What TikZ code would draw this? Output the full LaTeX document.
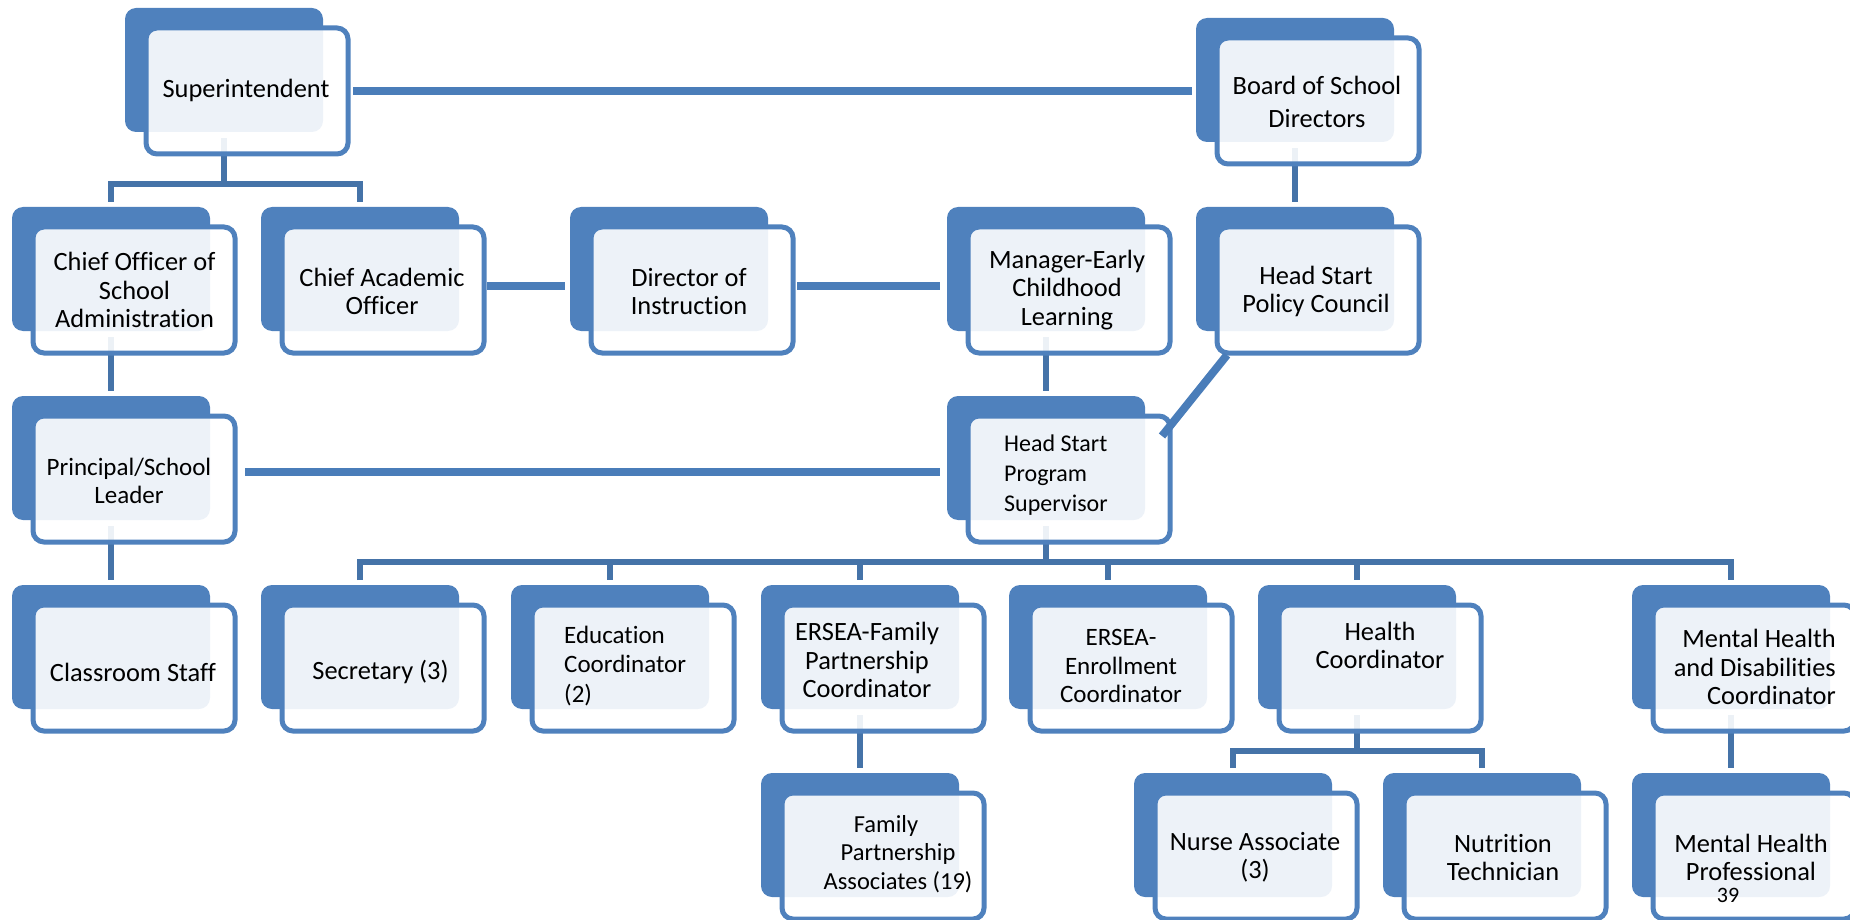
\documentclass[tikz,border=0pt]{standalone}
\usepackage{fontspec}
\setmainfont{Carlito}[Ligatures=NoCommon]
\definecolor{boxblue}{HTML}{4F81BD}
\definecolor{treeblue}{HTML}{4573A8}
\definecolor{connblue}{HTML}{4A7DB9}
\begin{document}
\begin{tikzpicture}[x=1pt,y=-1pt,
  backbox/.style={rectangle, rounded corners=11pt, fill=boxblue, draw=none, inner sep=0pt, outer sep=0pt,
    minimum width=198pt, minimum height=124pt, anchor=north west},
  frontbox/.style={rectangle, rounded corners=11pt, draw=boxblue, line width=5pt, fill=white, fill opacity=0.9,
    inner sep=0pt, outer sep=0pt, minimum width=202pt, minimum height=126pt, anchor=north west},
  tree/.style={draw=treeblue, line width=5.5pt, line join=miter},
  conn/.style={draw=connblue, line width=7.5pt},
  lbl/.style={inner sep=0pt, align=center, text=black, font=\fontsize{26.4}{28.3}\selectfont},
  small/.style={font=\fontsize{25}{28.3}\selectfont}]
\useasboundingbox (0,0) rectangle (1850,920);
\clip (0,0) rectangle (1850,920);
% back boxes
\foreach \n/\x/\y in {sup/125/8, brd/1196/18,
  co/12/207, ca/261/207, dir/570/207, mgr/947/207, pc/1196/207,
  pr/12/396, hsps/947/396,
  cs/12/585, sec/261/585, ed/511/585, ef/761/585, ee/1009/585, hl/1258/585, mhd/1632/585,
  fpa/761/773, nu/1134/773, nt/1383/773, mhp/1632/773}
  \node[backbox] (\n-b) at (\x,\y) {};
% bus coordinates
\coordinate (bus1) at (0,184);
\coordinate (bus2) at (0,562);
\coordinate (bus3) at (0,751);
% tree lines
\draw[tree, shorten <=6pt] (sup-b.south) -- (sup-b.south |- bus1);
\draw[tree, shorten <=5pt, shorten >=5pt] (co-b.north) |- (bus1 -| ca-b.north) -- (ca-b.north);
\draw[tree, shorten <=6pt, shorten >=5pt] (brd-b.south) -- (pc-b.north);
\draw[tree, shorten <=6pt, shorten >=5pt] (co-b.south) -- (pr-b.north);
\draw[tree, shorten <=6pt, shorten >=5pt] (mgr-b.south) -- (hsps-b.north);
\draw[tree, shorten <=6pt, shorten >=5pt] (pr-b.south) -- (cs-b.north);
\draw[tree, shorten <=6pt] (hsps-b.south) -- (hsps-b.south |- bus2);
\draw[tree, shorten <=5pt, shorten >=5pt] (sec-b.north) |- (bus2 -| mhd-b.north) -- (mhd-b.north);
\foreach \n in {ed, ef, ee, hl}
  \draw[tree, shorten >=5pt] (\n-b.north |- bus2) -- (\n-b.north);
\draw[tree, shorten <=6pt, shorten >=5pt] (ef-b.south) -- (fpa-b.north);
\draw[tree, shorten <=6pt] (hl-b.south) -- (hl-b.south |- bus3);
\draw[tree, shorten <=5pt, shorten >=5pt] (nu-b.north) |- (bus3 -| nt-b.north) -- (nt-b.north);
\draw[tree, shorten <=6pt, shorten >=5pt] (mhd-b.south) -- (mhp-b.north);
% front boxes
\foreach \n/\x/\y in {sup/125/8, brd/1196/18,
  co/12/207, ca/261/207, dir/570/207, mgr/947/207, pc/1196/207,
  pr/12/396, hsps/947/396,
  cs/12/585, sec/261/585, ed/511/585, ef/761/585, ee/1009/585, hl/1258/585, mhd/1632/585,
  fpa/761/773, nu/1134/773, nt/1383/773, mhp/1632/773}
  \node[frontbox] (\n-f) at ({\x+21},{\y+20}) {};
% labels
\node[lbl] (t-sup) at (246,90) {Superintendent};
\node[lbl, font=\fontsize{26.4}{33}\selectfont] (t-brd) at (1317,101.5) {Board of School\\Directors};
\node[lbl] (t-co) at (134.5,290) {Chief Officer of\\School\\Administration};
\node[lbl] (t-ca) at (382,291.5) {Chief Academic\\Officer};
\node[lbl] (t-dir) at (689,291.5) {Director of\\Instruction};
\node[lbl] (t-mgr) at (1067,290) {Manager-Early\\Childhood\\Learning};
\node[lbl] (t-pc) at (1316,291.5) {Head Start\\Policy Council};
\node[lbl, small] (t-pr) at (129,481) {Principal/School\\Leader};
\node[lbl, align=left, anchor=west, font=\fontsize{24}{30}\selectfont] (t-hsps) at (1004,475) {Head Start\\Program\\Supervisor};
\node[lbl] (t-cs) at (133,672) {Classroom Staff};
\node[lbl] (t-sec) at (380.5,672) {Secretary (3)};
\node[lbl, small, align=left, anchor=west, font=\fontsize{25}{29.5}\selectfont] (t-ed) at (564,666) {Education\\Coordinator\\(2)};
\node[lbl] (t-ef) at (867,660) {ERSEA-Family\\Partnership\\Coordinator};
\node[lbl, small] (t-ee) at (1121,666) {ERSEA-\\Enrollment\\Coordinator};
\node[lbl] (t-hl) at (1380,645.5) {Health\\Coordinator};
\node[lbl, align=right, anchor=east] (t-mhd) at (1836,667) {Mental Health\\and Disabilities\\Coordinator};
\node[lbl, font=\fontsize{24.5}{28.3}\selectfont] (t-fpa) at (898,854) {Family\hspace*{24pt}\\Partnership\\Associates (19)};
\node[lbl] (t-nu) at (1255,857.5) {Nurse Associate\\(3)};
\node[lbl] (t-nt) at (1503,857.5) {Nutrition\\Technician};
\node[lbl] (t-mhp) at (1751,857.5) {Mental Health\\Professional};
\node[inner sep=0pt, font=\fontsize{22}{26}\selectfont] (pgnum) at (1728,895) {39};
% connectors
\draw[conn, shorten <=5pt, shorten >=4pt] (sup-f.east) -- (sup-f.east -| brd-b.west);
\coordinate (ca-out) at ([yshift=4pt]ca-f.east);
\draw[conn, shorten <=3pt, shorten >=5pt] (ca-out) -- (ca-out -| dir-b.west);
\coordinate (dir-out) at ([yshift=4pt]dir-f.east);
\draw[conn, shorten <=4pt, shorten >=7pt] (dir-out) -- (dir-out -| mgr-b.west);
\coordinate (pr-out) at ([yshift=7pt]pr-f.east);
\draw[conn, shorten <=10pt, shorten >=7pt] (pr-out) -- (pr-out -| hsps-b.west);
\coordinate (hs-diag) at (1162,436);
\draw[conn, line width=8pt] ([xshift=10pt,yshift=-2pt]pc-f.south west) -- (hs-diag);
\end{tikzpicture}
\end{document}
